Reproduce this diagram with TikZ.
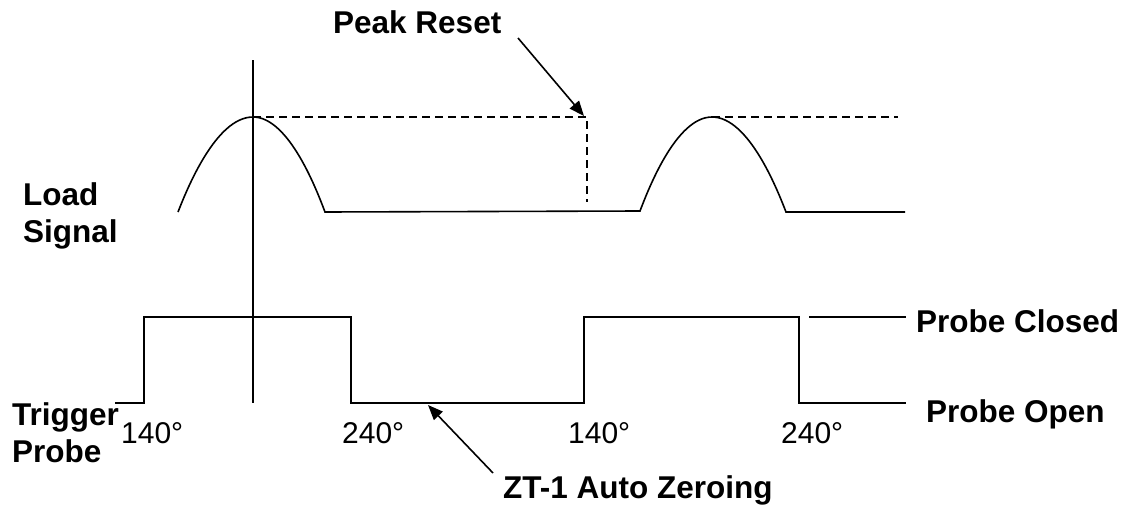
\documentclass[tikz,border=0pt]{standalone}
\usepackage{fontspec}
\setmainfont{Liberation Sans}
\usepackage{tikz}
\usetikzlibrary{arrows.meta,positioning,calc}

\begin{document}
\begin{tikzpicture}[x=1pt,y=-1pt,
  sig/.style={line width=1.6pt,line join=miter},
  lbl/.style={font=\fontsize{31.5}{37}\selectfont\bfseries,inner sep=0pt,anchor=base west,align=left},
  deg/.style={font=\fontsize{30}{32}\selectfont,inner sep=0pt,anchor=base west},
  pointer/.style={line width=1.6pt,-{Triangle[length=15pt,width=12pt]}}]
\useasboundingbox (0,0) rectangle (1122,506);
% Labels
\node[lbl] (load) at (23,242) {Load\\Signal};
\node[lbl] (trig) at (12,462) {Trigger\\Probe};
\node[lbl] (reset) at (333,34) {Peak Reset};
\node[lbl] (closed) at (916,332) {Probe Closed};
\node[lbl] (open) at (926,422) {Probe Open};
\node[lbl] (zero) at (503,498) {ZT-1 Auto Zeroing};
% Angle marks
\foreach \x/\t in {121/140,342/240,568/140,781/240} {
  \node[deg] (deg\x) at (\x,443) {\t\char"00B0};
}
% Load signal
\draw[sig] (178,212) parabola bend (253,117) (325,212) -- (640,211)
  parabola bend (712,117) (786,212) -- (905,212);
% Held peak
\draw[line width=1.2pt,dash pattern=on 8pt off 5pt] (253,117) -- (587,117) -- (587,202);
\draw[line width=1.2pt,dash pattern=on 8pt off 5pt] (712,117) -- (898,117);
% Trigger pulse
\draw[sig] (115,403) -- (144,403) -- (144,317) -- (351,317) -- (351,403)
  -- (584,403) -- (584,317) -- (799,317) -- (799,403) -- (906,403);
\draw[sig] (809,317) -- (906,317);
% Sample instant
\draw[sig] (253,60) -- (253,403);
% Pointers
\coordinate (resetfrom) at (518,38);
\coordinate (resettip) at (584,116);
\draw[pointer] (resetfrom) -- (resettip);
\coordinate (zerofrom) at (493,473);
\coordinate (zerotip) at (428,405);
\draw[pointer] (zerofrom) -- (zerotip);
\end{tikzpicture}
\end{document}
